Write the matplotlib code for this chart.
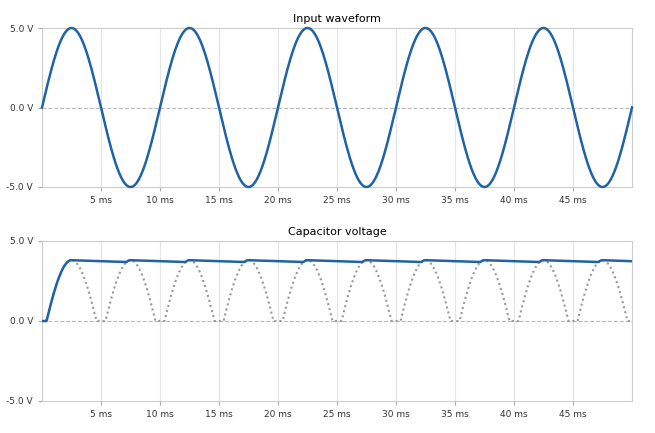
import numpy as np
import matplotlib
matplotlib.use("Agg")
import matplotlib.pyplot as plt

amplitude_v = 5.0
period_ms = 10.0
diode_drop_v = 1.2
rc_ms = 150.0
t_end_ms = 50.0
xticks = [5, 10, 15, 20, 25, 30, 35, 40, 45]
yticks = [-5.0, 0.0, 5.0]

t = np.linspace(0, t_end_ms, 5001)
vin = amplitude_v * np.sin(2 * np.pi * t / period_ms)
rect = np.clip(np.abs(vin) - diode_drop_v, 0, None)
vc = np.zeros_like(t)
for i in range(1, len(t)):
    dt = t[i] - t[i-1]
    dec = vc[i-1] * np.exp(-dt / rc_ms)
    vc[i] = max(dec, rect[i])

blue = "#1f63a6"
fig = plt.figure(figsize=(6.55, 4.33), dpi=100)
ax1 = fig.add_axes([42/655, 1-187/433, 590/655, 159/433])
ax2 = fig.add_axes([42/655, 1-401/433, 590/655, 160/433])
for ax, title in [(ax1, "Input waveform"), (ax2, "Capacitor voltage")]:
    ax.set_xlim(0, t_end_ms)
    ax.set_ylim(-5, 5)
    ax.set_xticks(xticks)
    ax.set_xticklabels([f"{x} ms" for x in xticks], fontsize=6.5, color="#333")
    ax.set_yticks(yticks)
    ax.set_yticklabels([f"{y:.1f} V" for y in yticks], fontsize=6.5, color="#333")
    ax.tick_params(length=3, color="#aaa")
    ax.grid(axis="x", color="#e4e4e4", lw=0.8)
    ax.axhline(0, color="#bbb", ls="--", lw=0.8, zorder=1)
    for s in ax.spines.values():
        s.set_color("#ccc")
    ax.set_title(title, fontsize=8, pad=4)
ax1.plot(t, vin, color=blue, lw=1.8, clip_on=False, zorder=3)
ax2.plot(t, rect, color="#999", lw=1.5, ls=(0, (1, 1.5)), zorder=2)
ax2.plot(t, vc, color=blue, lw=1.8, zorder=3)
fig.savefig("out.png", dpi=100)
